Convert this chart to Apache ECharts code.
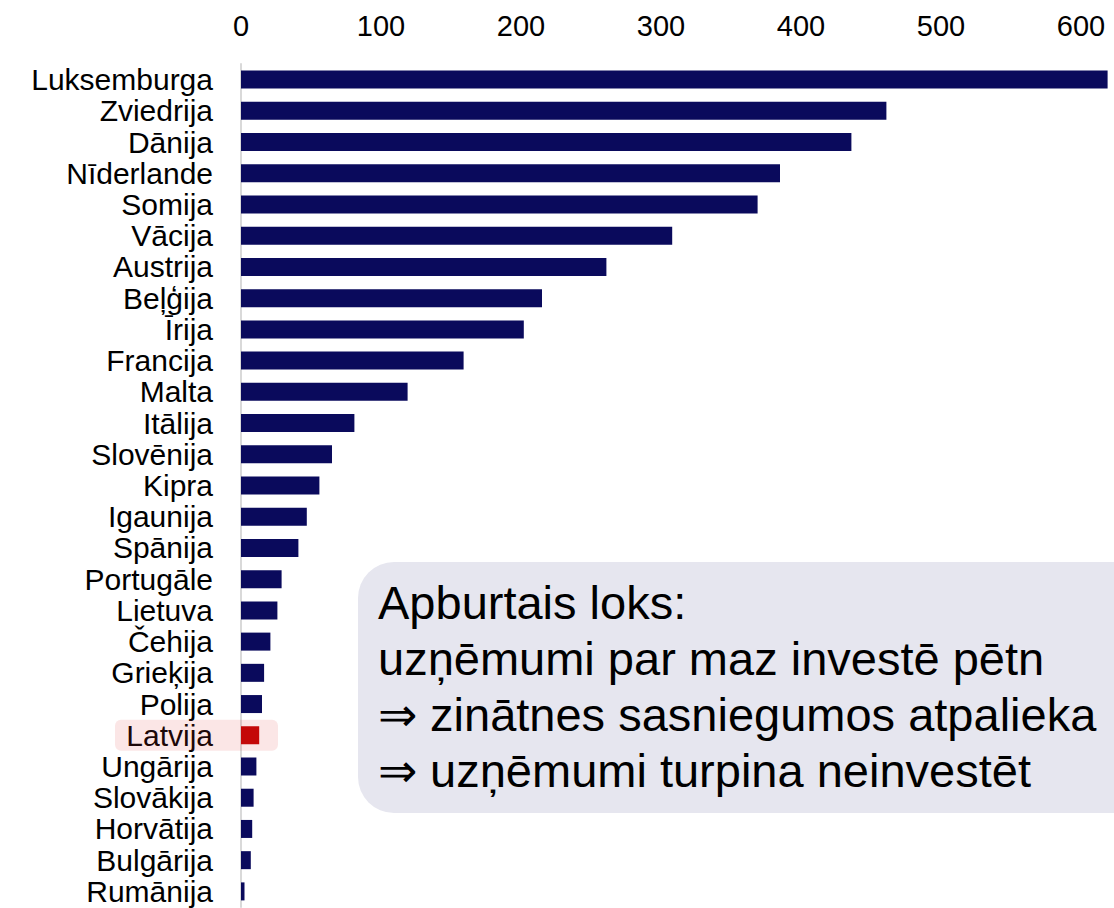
<!DOCTYPE html>
<html>
<head>
<meta charset="utf-8">
<title>Uzņēmumu investīcijas pētniecībā</title>
<script src="https://cdn.jsdelivr.net/npm/echarts@6/dist/echarts.min.js"></script>
<style>
	html, body { margin: 0; padding: 0; background: #fff; }
	#main { width: 1114px; height: 908px; }
</style>
</head>
<body>
<div id="main"></div>
<script>
var countries = ['Luksemburga', 'Zviedrija', 'Dānija', 'Nīderlande', 'Somija', 'Vācija', 'Austrija',
	'Beļģija', 'Īrija', 'Francija', 'Malta', 'Itālija', 'Slovēnija', 'Kipra', 'Igaunija', 'Spānija',
	'Portugāle', 'Lietuva', 'Čehija', 'Grieķija', 'Polija', 'Latvija', 'Ungārija', 'Slovākija',
	'Horvātija', 'Bulgārija', 'Rumānija'];
var values = [619, 461, 436, 385, 369, 308, 261,
	215, 202, 159, 119, 81, 65, 56, 47, 41,
	29, 26, 21, 16.5, 15, 13, 11, 9,
	8, 7, 2.5];
var xTicks = [0, 100, 200, 300, 400, 500, 600];
var highlight = 'Latvija';
var noteLines = [
	'Apburtais loks:',
	'uzņēmumi par maz investē pētniecībā',
	'⇒ zinātnes sasniegumos atpaliekam',
	'⇒ uzņēmumi turpina neinvestēt'
];

var font = '"Liberation Sans", Arial, sans-serif';
var chart = echarts.init(document.getElementById('main'), null, {renderer: 'svg'});

var bar_data = [];
for (var i = 0; i < countries.length; i++) {
	var item = {value: values[i]};
	if (countries[i] == highlight) {
		item.itemStyle = {color: '#c00000'}; // Latvija sarkanā krāsā
	}
	bar_data.push(item);
}

var option = {
	animation: false,
	grid: {
		left: 241,
		right: 5,
		top: 64,
		height: 843
	},
	xAxis: {
		type: 'value',
		position: 'top',
		min: 0,
		max: 620,
		axisLine: {show: false},
		axisTick: {show: false},
		splitLine: {show: false},
		axisLabel: {
			customValues: xTicks,
			margin: 24,
			fontSize: 29,
			color: '#000',
			fontFamily: font
		}
	},
	yAxis: {
		type: 'category',
		inverse: true,
		data: countries,
		axisTick: {show: false},
		axisLine: {lineStyle: {color: '#d9d9d9', width: 2}},
		axisLabel: {
			interval: 0,
			margin: 28,
			fontSize: 30,
			lineHeight: 30,
			color: '#000',
			fontFamily: font
		}
	},
	series: [{
		type: 'bar',
		data: bar_data,
		barWidth: 18,
		itemStyle: {color: '#0a0a5c'}
	}]
};
chart.setOption(option);

// izcēlums ap Latviju un paskaidrojuma lodziņš
var ly = chart.convertToPixel({yAxisIndex: 0}, highlight);
var lx = chart.convertToPixel({xAxisIndex: 0}, 0);
chart.setOption({
	graphic: [
		{
			type: 'rect',
			z: 100,
			shape: {x: lx - 126, y: ly - 15.5, width: 163, height: 31, r: 6},
			style: {fill: 'rgba(225, 60, 60, 0.13)'}
		},
		{
			type: 'rect',
			z: 90,
			shape: {x: 358, y: 562, width: 800, height: 251, r: 36},
			style: {fill: '#e6e6ef'}
		},
		{
			type: 'text',
			z: 91,
			x: 378,
			y: 574,
			style: {
				text: noteLines.join('\n'),
				font: '47px ' + font,
				lineHeight: 56,
				fill: '#000',
				verticalAlign: 'top',
				width: 750,
				overflow: 'truncate',
				ellipsis: ''
			}
		}
	]
});
</script>
</body>
</html>
